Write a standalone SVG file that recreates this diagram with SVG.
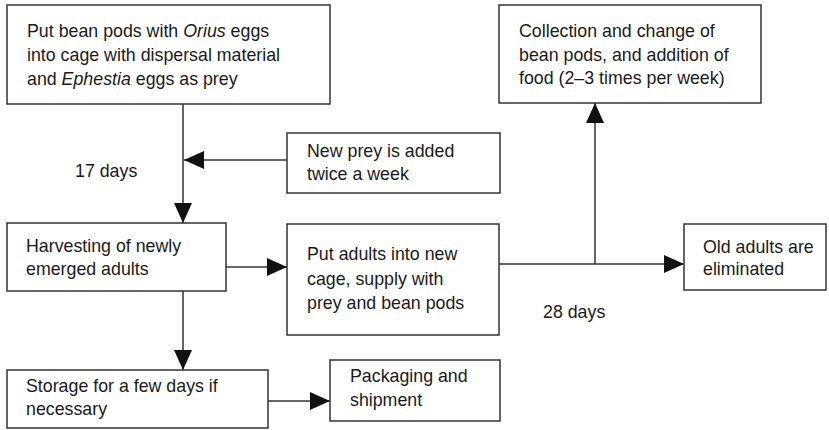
<svg xmlns="http://www.w3.org/2000/svg" width="829" height="430" viewBox="0 0 829 430">
<style>
.box{fill:#fff;stroke:#333;stroke-width:1.5}
.t{font-family:"Liberation Sans",Arial,sans-serif;font-size:17.8px;fill:#1a1a1a}
.c{fill:none;stroke:#333;stroke-width:1.5}
</style>
<defs>
<marker id="ah" viewBox="0 0 20 18" refX="20" refY="9" markerWidth="20" markerHeight="18" markerUnits="userSpaceOnUse" orient="auto">
<path d="M0,0 L20,9 L0,18 z" fill="#111"/>
</marker>
</defs>
<rect width="829" height="430" fill="#fff"/>
<g id="connectors">
<path class="c" d="M183,104 V223" marker-end="url(#ah)"/>
<path class="c" d="M287,160 H184" marker-end="url(#ah)"/>
<path class="c" d="M226,267 H287" marker-end="url(#ah)"/>
<path class="c" d="M183,291 V370" marker-end="url(#ah)"/>
<path class="c" d="M268,401 H330" marker-end="url(#ah)"/>
<path class="c" d="M499,264 H684" marker-end="url(#ah)"/>
<path class="c" d="M595,264 V103" marker-end="url(#ah)"/>
</g>
<g id="n1">
<rect class="box" x="7" y="5" width="323" height="99"/>
<text class="t" x="27" y="37">Put bean pods with <tspan font-style="italic">Orius</tspan> eggs</text>
<text class="t" x="27" y="61">into cage with dispersal material</text>
<text class="t" x="27" y="85">and <tspan font-style="italic">Ephestia</tspan> eggs as prey</text>
</g>
<g id="n2">
<rect class="box" x="499" y="5" width="262" height="98"/>
<text class="t" x="519" y="37">Collection and change of</text>
<text class="t" x="519" y="61">bean pods, and addition of</text>
<text class="t" x="519" y="84">food (2–3 times per week)</text>
</g>
<g id="n3">
<rect class="box" x="287" y="133" width="213" height="60"/>
<text class="t" x="307" y="157">New prey is added</text>
<text class="t" x="307" y="180">twice a week</text>
</g>
<g id="lbl17">
<text class="t" x="75" y="177">17 days</text>
</g>
<g id="n4">
<rect class="box" x="7" y="223" width="219" height="68"/>
<text class="t" x="26" y="252">Harvesting of newly</text>
<text class="t" x="26" y="275">emerged adults</text>
</g>
<g id="n5">
<rect class="box" x="287" y="224" width="212" height="111"/>
<text class="t" x="307" y="260">Put adults into new</text>
<text class="t" x="307" y="285">cage, supply with</text>
<text class="t" x="307" y="309">prey and bean pods</text>
</g>
<g id="n6">
<rect class="box" x="684" y="224" width="142" height="66"/>
<text class="t" x="703" y="253">Old adults are</text>
<text class="t" x="703" y="275">eliminated</text>
</g>
<g id="lbl28">
<text class="t" x="543" y="318">28 days</text>
</g>
<g id="n7">
<rect class="box" x="7" y="370" width="261" height="58"/>
<text class="t" x="26" y="392">Storage for a few days if</text>
<text class="t" x="26" y="415">necessary</text>
</g>
<g id="n8">
<rect class="box" x="330" y="360" width="170" height="61"/>
<text class="t" x="350" y="382">Packaging and</text>
<text class="t" x="350" y="406">shipment</text>
</g>
</svg>
